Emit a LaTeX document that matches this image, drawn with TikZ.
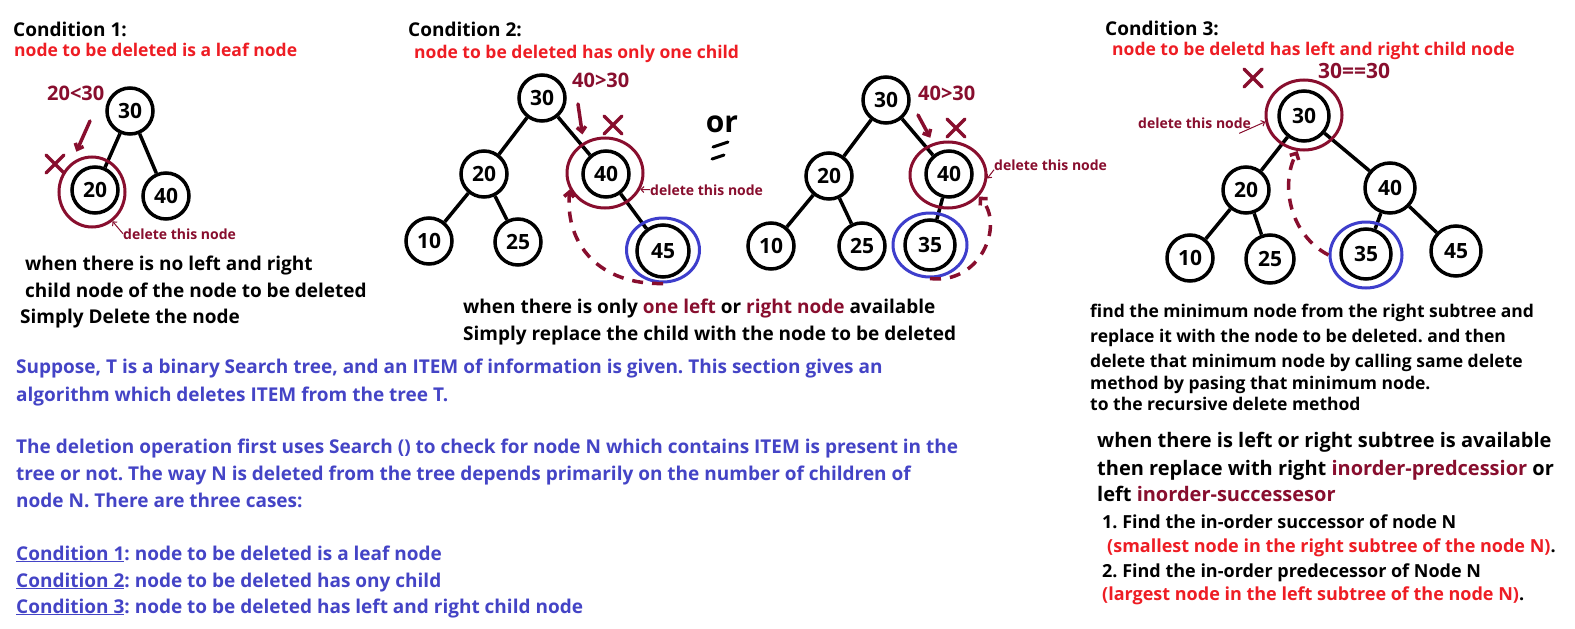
\documentclass[tikz,border=0pt]{standalone}
\usepackage{fontspec}
\setmainfont{Open Sans}
\usetikzlibrary{arrows.meta,shapes.geometric}
\frenchspacing

\definecolor{delred}{HTML}{880E2E}
\definecolor{hotred}{HTML}{EE1D24}
\definecolor{infoblue}{HTML}{4444C6}
\definecolor{ringblue}{HTML}{3E3ECC}

\tikzset{
  bst/.style={circle, draw, line width=3.5pt, minimum size=46pt, inner sep=0pt,
    font=\bfseries\fontsize{21}{21}\selectfont},
  link/.style={line width=3.5pt},
  delring/.style={ellipse, draw=delred, line width=3pt, inner sep=0pt},
  minring/.style={ellipse, draw=ringblue, line width=3pt, inner sep=0pt},
  txt/.style={anchor=base west, inner sep=0pt, font=\bfseries\fontsize{#1}{#1}\selectfont},
  txt/.default=19,
  hint/.style={delred, line width=3.5pt, line cap=round, -{Straight Barb[length=5pt,width=9pt]}},
  pointer/.style={delred, line width=1pt, -{Straight Barb[length=3pt,width=6pt]}},
  moveback/.style={delred, line width=3.5pt, dash pattern=on 11pt off 9pt, -{Straight Barb[length=5pt,width=10pt]}},
  xmark/.pic={\draw[delred, line width=3.5pt, line cap=round] (-9,-9) -- (9,9) (9,-9) -- (-9,9);}
}

\begin{document}
\begin{tikzpicture}[x=1pt, y=-1pt]
    \fill[white] (0,0) rectangle (1575,629);
    \useasboundingbox (0,0) rectangle (1575,629);

    % ================= Condition 1: leaf node =================
    \node[txt] (c1title) at (13,36) {Condition 1:};
    \node[txt=17.5, text=hotred] (c1sub) at (14,56) {node to be deleted is a leaf node};

    % 1. tree
    \node[bst] (a30) at (130,111) {30};
    \node[bst] (a20) at (95,190) {20};
    \node[bst] (a40) at (166,196) {40};
    \draw[link] (a30) -- (a20);
    \draw[link] (a30) -- (a40);

    % 2. mark the node to delete
    \node[delring, minimum width=66pt, minimum height=70pt] (r20) at (92,192) {};
    \node[txt=20, text=delred] (c1cmp) at (47,100) {20<30};
    \coordinate (c1from) at (90,121);
    \draw[hint, shorten >=12pt] (c1from) -- (r20.125);
    \pic at (55,164) {xmark};
    \node[txt=14, text=delred] (c1del) at (123,239) {delete this node};
    \draw[pointer] (c1del.west) -- (r20.-55);

    % 3. explanation
    \node[txt] (c1l1) at (25,270) {when there is no left and right};
    \node[txt] (c1l2) at (25,297) {child node of the node to be deleted};
    \node[txt] (c1l3) at (20,323) {Simply Delete the node};

    % ================= Condition 2: one child =================
    \node[txt] (c2title) at (408,36) {Condition 2:};
    \node[txt=17.5, text=hotred] (c2sub) at (414,58) {node to be deleted has only one child};

    % 1. left tree (right child)
    \node[bst] (b30) at (542,98) {30};
    \node[bst] (b20) at (484,174) {20};
    \node[bst] (b40) at (606,174) {40};
    \node[bst] (b10) at (429,241) {10};
    \node[bst] (b25) at (518,242) {25};
    \node[bst, minimum size=52pt] (b45) at (663,251) {45};
    \foreach \u/\v in {b30/b20, b30/b40, b20/b10, b20/b25, b40/b45}
        \draw[link] (\u) -- (\v);

    \node[delring, minimum width=76pt, minimum height=70pt] (r40) at (605,173) {};
    \node[minring, minimum width=73pt, minimum height=64pt] (u45) at (663,250) {};
    \node[txt=20, text=delred] (c2cmp) at (572,87) {40>30};
    \coordinate (c2from) at (578,104);
    \draw[hint, shorten >=8pt] (c2from) -- (r40.125);
    \pic at (613,125) {xmark};
    \node[txt=14, text=delred] (c2del) at (650,195) {delete this node};
    \draw[pointer] (c2del.west) -- (r40.-25);
    \draw[moveback] (u45.south) .. controls (600,285) and (565,245) .. (r40.205);

    % 2. "or"
    \node[inner sep=0pt, font=\bfseries\fontsize{30}{30}\selectfont] (ortext) at (722,124) {or};
    \draw[line width=3pt, line cap=round] (713,147) -- (728,142) (712,159) -- (724,155);

    % 3. right tree (left child)
    \node[bst] (d30) at (886,100) {30};
    \node[bst] (d20) at (829,176) {20};
    \node[bst] (d40) at (949,174) {40};
    \node[bst] (d10) at (771,246) {10};
    \node[bst] (d25) at (862,246) {25};
    \node[bst, minimum size=50pt] (d35) at (930,245) {35};
    \foreach \u/\v in {d30/d20, d30/d40, d20/d10, d20/d25, d40/d35}
        \draw[link] (\u) -- (\v);

    \node[delring, minimum width=76pt, minimum height=66pt] (s40) at (948,175) {};
    \node[minring, minimum width=74pt, minimum height=64pt] (s35) at (930,245) {};
    \node[txt=20, text=delred] (c2cmpb) at (918,100) {40>30};
    \coordinate (c2fromb) at (918,115);
    \draw[hint, shorten >=6pt] (c2fromb) -- (s40.115);
    \pic at (956,128) {xmark};
    \node[txt=14, text=delred] (c2delb) at (994,170) {delete this node};
    \draw[pointer] ([yshift=-5pt]c2delb.west) -- (s40.-5);
    \draw[moveback] (s35.south) .. controls (980,285) and (1005,225) .. (s40.-35);

    % 4. explanation
    \node[txt] (c2l1) at (463,313) {when there is only \textcolor{delred}{one left} or \textcolor{delred}{right node} available};
    \node[txt] (c2l2) at (463,340) {Simply replace the child with the node to be deleted};

    % ================= Condition 3: two children =================
    \node[txt] (c3title) at (1105,35) {Condition 3:};
    \node[txt=17.5, text=hotred] (c3sub) at (1112,55) {node to be deletd has left and right child node};

    % 1. tree
    \node[bst, minimum size=50pt] (e30) at (1304,116) {30};
    \node[bst] (e20) at (1246,190) {20};
    \node[bst, minimum size=50pt] (e40) at (1390,188) {40};
    \node[bst] (e10) at (1190,258) {10};
    \node[bst, minimum size=48pt] (e25) at (1270,259) {25};
    \node[bst, minimum size=50pt] (e35) at (1366,254) {35};
    \node[bst, minimum size=50pt] (e45) at (1456,251) {45};
    \foreach \u/\v in {e30/e20, e30/e40, e20/e10, e20/e25, e40/e35, e40/e45}
        \draw[link] (\u) -- (\v);

    \node[delring, minimum width=76pt, minimum height=70pt] (t30) at (1304,115) {};
    \node[minring, minimum width=72pt, minimum height=66pt] (t35) at (1366,255) {};
    \node[txt=21, text=delred] (c3cmp) at (1318,78) {30==30};
    \pic at (1253,78) {xmark};
    \node[txt=14, text=delred] (c3del) at (1138,128) {delete this node};
    \draw[pointer] ([xshift=-12pt,yshift=-5pt]c3del.south east) -- (t30.190);
    \draw[moveback] (t35.west) .. controls (1290,235) and (1280,185) .. (t30.-100);

    % 2. explanation
    \node[txt=17.5] (c3l1) at (1090,317) {find the minimum node from the right subtree and};
    \node[txt=17.5] (c3l2) at (1090,342) {replace it with the node to be deleted. and then};
    \node[txt=17.5] (c3l3) at (1090,367) {delete that minimum node by calling same delete};
    \node[txt=17.5] (c3l4) at (1090,389) {method by pasing that minimum node.};
    \node[txt=17.5] (c3l5) at (1090,410) {to the recursive delete method};

    \node[txt=20] (c3m1) at (1097,447) {when there is left or right subtree is available};
    \node[txt=20] (c3m2) at (1097,475) {then replace with right \textcolor{delred}{inorder-predcessior} or};
    \node[txt=20] (c3m3) at (1097,501) {left \textcolor{delred}{inorder-successesor}};

    \node[txt=18] (c3s1) at (1102,528) {1. Find the in-order successor of node N};
    \node[txt=18] (c3s2) at (1107,552) {\textcolor{hotred}{(smallest node in the right subtree of the node N)}.};
    \node[txt=18] (c3s3) at (1102,577) {2. Find the in-order predecessor of Node N};
    \node[txt=18] (c3s4) at (1102,600) {\textcolor{hotred}{(largest node in the left subtree of the node N)}.};

    % ================= summary (blue) =================
    \begin{scope}[every node/.append style={text=infoblue}]
        \node[txt] (sum1) at (16,373) {Suppose, T is a binary Search tree, and an ITEM of information is given. This section gives an};
        \node[txt] (sum2) at (16,401) {algorithm which deletes ITEM from the tree T.};
        \node[txt] (sum3) at (16,453) {The deletion operation first uses Search () to check for node N which contains ITEM is present in the};
        \node[txt] (sum4) at (16,480) {tree or not. The way N is deleted from the tree depends primarily on the number of children of};
        \node[txt] (sum5) at (16,507) {node N. There are three cases:};
        \node[txt] (case1) at (16,560) {\underline{Condition 1}: node to be deleted is a leaf node};
        \node[txt] (case2) at (16,587) {\underline{Condition 2}: node to be deleted has ony child};
        \node[txt] (case3) at (16,613) {\underline{Condition 3}: node to be deleted has left and right child node};
    \end{scope}
\end{tikzpicture}
\end{document}
